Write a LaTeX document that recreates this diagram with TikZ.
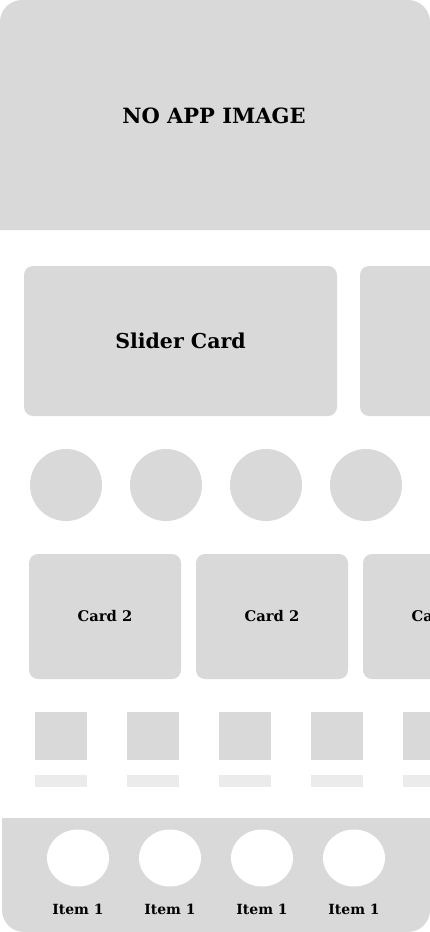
\documentclass[tikz,border=0pt]{standalone}
\usepackage{fontspec}
\setmainfont{DejaVu Serif}
\usetikzlibrary{positioning, shapes.geometric}
\definecolor{placeholder}{HTML}{D9D9D9}
\definecolor{faint}{HTML}{EBEBEB}

\begin{document}
\begin{tikzpicture}[x=1pt, y=-1pt, node distance=28pt, inner sep=0pt, outer sep=0pt]
				\tikzstyle{card} = [rectangle, fill=placeholder, rounded corners=9pt, text centered]
				\tikzstyle{dot} = [circle, fill=placeholder, minimum size=72pt]
				\tikzstyle{thumb} = [rectangle, fill=placeholder, minimum width=52pt, minimum height=48pt]
				\tikzstyle{caption} = [rectangle, fill=faint, minimum width=52pt, minimum height=12pt]
				\tikzstyle{tab} = [ellipse, fill=white, minimum width=62pt, minimum height=57pt]
				\tikzstyle{label} = [font=\fontsize{14}{17}\selectfont\bfseries]
				
				\useasboundingbox (0,0) rectangle (430,932);
				\clip (0,0) rectangle (430,932);
				
				% header image
				\fill [placeholder] (0,230) -- (0,22) [rounded corners=22pt] -- (0,0) -- (430,0) [sharp corners] -- (430,22) -- (430,230) -- cycle;
				\node [font=\fontsize{21}{25}\selectfont\bfseries] (header) at (214,116) {NO APP IMAGE};
				
				% slider
				\node [card, minimum width=313pt, minimum height=150pt, font=\fontsize{20.5}{24}\selectfont\bfseries] (slider) at (180.5,341) {Slider Card};
				\node [card, minimum width=313pt, minimum height=150pt, right=23pt of slider] (sliderb) {};
				
				% round shortcuts
				\node [dot] (dota) at (66,485) {};
				\node [dot, right of=dota, node distance=100pt] (dotb) {};
				\node [dot, right of=dotb, node distance=100pt] (dotc) {};
				\node [dot, right of=dotc, node distance=100pt] (dotd) {};
				
				% small cards
				\node [card, minimum width=152pt, minimum height=125pt, font=\fontsize{14.7}{17}\selectfont\bfseries] (carda) at (105,616.5) {Card 2};
				\node [card, minimum width=152pt, minimum height=125pt, font=\fontsize{14.7}{17}\selectfont\bfseries, right=15pt of carda] (cardb) {Card 2};
				\node [card, minimum width=152pt, minimum height=125pt, font=\fontsize{14.7}{17}\selectfont\bfseries, right=15pt of cardb] (cardc) {Card 2};
				
				% thumbnails
				\node [thumb] (thumba) at (61,736) {};
				\node [thumb, right=40pt of thumba] (thumbb) {};
				\node [thumb, right=40pt of thumbb] (thumbc) {};
				\node [thumb, right=40pt of thumbc] (thumbd) {};
				\node [thumb, right=40pt of thumbd] (thumbe) {};
				\node [caption, below=15pt of thumba] (capa) {};
				\node [caption, below=15pt of thumbb] (capb) {};
				\node [caption, below=15pt of thumbc] (capc) {};
				\node [caption, below=15pt of thumbd] (capd) {};
				\node [caption, below=15pt of thumbe] (cape) {};
				
				% bottom navigation
				\fill [placeholder] (2,818) -- (430,818) [rounded corners=22pt] -- (430,932) -- (2,932) [sharp corners] -- (2,818) -- cycle;
				\node [tab] (taba) at (78,858) {};
				\node [tab, right=30pt of taba] (tabb) {};
				\node [tab, right=30pt of tabb] (tabc) {};
				\node [tab, right=30pt of tabc] (tabd) {};
				\node [label] (itema) at (78,909) {Item 1};
				\node [label] (itemb) at (170,909) {Item 1};
				\node [label] (itemc) at (262,909) {Item 1};
				\node [label] (itemd) at (354,909) {Item 1};
			\end{tikzpicture}
\end{document}
